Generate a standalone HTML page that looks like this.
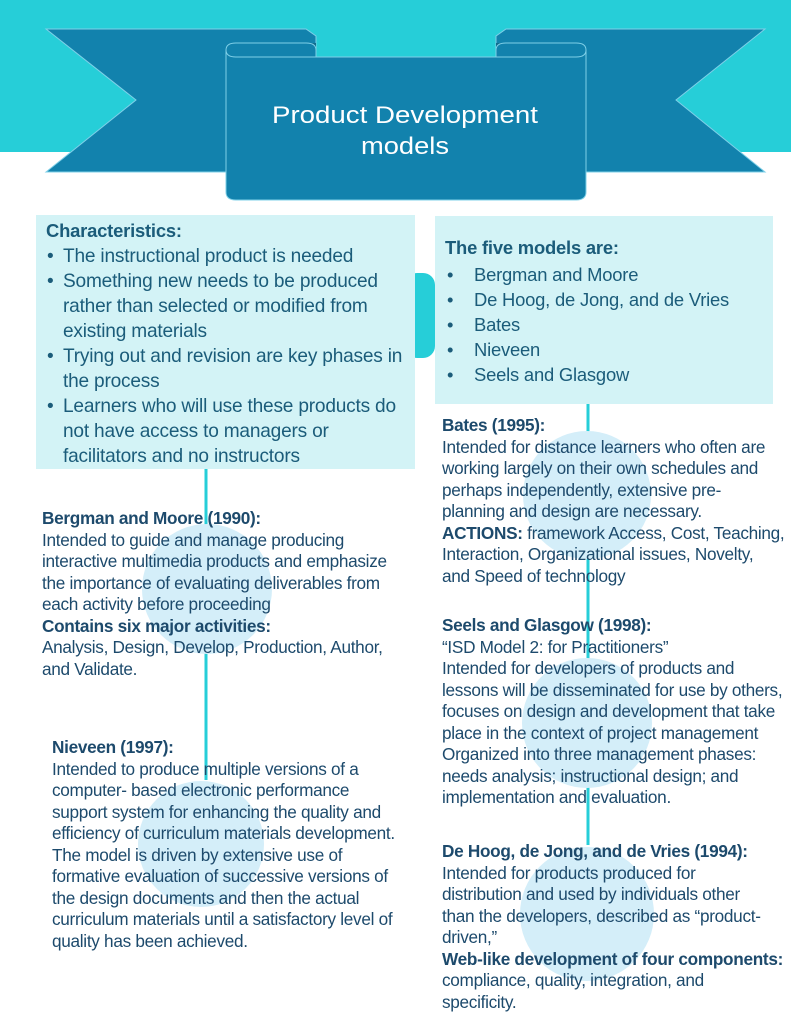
<!DOCTYPE html>
<html><head><meta charset="utf-8"><style>
body{margin:0;width:791px;height:1023px;position:relative;background:#fff;overflow:hidden;font-family:"Liberation Sans",sans-serif;}
.a{position:absolute;white-space:nowrap;color:#1d4a6c;}
.b{font-weight:bold;}
.bx{font-size:19.1px;color:#1b5c7a;letter-spacing:-0.2px;}
.bx2{font-size:18.4px;color:#1b5c7a;letter-spacing:-0.2px;}
.t{font-size:17.2px;letter-spacing:-0.3px;}
</style></head><body>
<div style="position:absolute;left:0;top:0;width:791px;height:152px;background:#26ced8"></div>
<svg style="position:absolute;left:0;top:0" width="791" height="220">
 <polygon points="46,29 306,29 316,36 316,172 46,172 136,100" fill="#1282ad" stroke="#7fd0e8" stroke-width="1"/>
 <polygon points="765,29 506,29 496,36 496,172 765,172 676,100" fill="#1282ad" stroke="#7fd0e8" stroke-width="1"/>
 <path d="M232,43 L316,43 L316,57 L232,57 Z" fill="#126a8c"/>
 <path d="M496,43 L580,43 L580,57 L496,57 Z" fill="#126a8c"/>
 <path d="M236,43 L306,43 Q316,43 316,50 L316,57 L496,57 L496,50 Q496,43 506,43 L576,43 Q586,43 586,50 L586,192 Q586,200 576,200 L236,200 Q226,200 226,192 L226,50 Q226,43 236,43 Z" fill="#1282ad" stroke="#7fd0e8" stroke-width="1"/>
 <path d="M226,50 Q226,57 236,57 L316,57" fill="none" stroke="#7fd0e8" stroke-width="1"/>
 <path d="M586,50 Q586,57 576,57 L496,57" fill="none" stroke="#7fd0e8" stroke-width="1"/>
 <text x="405" y="123" font-family="Liberation Sans,sans-serif" font-size="24" fill="#fff" text-anchor="middle" textLength="266" lengthAdjust="spacingAndGlyphs">Product Development</text>
 <text x="405" y="154" font-family="Liberation Sans,sans-serif" font-size="24" fill="#fff" text-anchor="middle" textLength="88" lengthAdjust="spacingAndGlyphs">models</text>
</svg>
<svg style="position:absolute;left:0;top:0" width="791" height="1023">
 <rect x="405" y="273" width="30" height="85" rx="12" fill="#26ced8"/>
 <line x1="206" y1="468" x2="206" y2="780" stroke="#26ced8" stroke-width="3"/>
 <line x1="588" y1="404" x2="588" y2="845" stroke="#26ced8" stroke-width="3"/>
 <circle cx="207" cy="589" r="65" fill="#d4eef9"/>
 <circle cx="201" cy="844" r="63" fill="#d4eef9"/>
 <circle cx="587" cy="495" r="64" fill="#d4eef9"/>
 <circle cx="587" cy="723" r="65" fill="#d4eef9"/>
 <circle cx="587" cy="914" r="67" fill="#d4eef9"/>
</svg>
<div style="position:absolute;left:36px;top:215px;width:379px;height:254px;background:#d3f3f6"></div>
<div style="position:absolute;left:435px;top:216px;width:338px;height:188px;background:#d3f3f6"></div>

<div class="a bx2 b" style="left:46px;top:220px">Characteristics:</div>
<div class="a bx" style="left:47px;top:244px;line-height:25px">•<br>•<br><br><br>•<br><br>•</div>
<div class="a bx" style="left:63px;top:244px;line-height:25px">The instructional product is needed<br>Something new needs to be produced<br>rather than selected or modified from<br>existing materials<br>Trying out and revision are key phases in<br>the process<br>Learners who will use these products do<br>not have access to managers or<br>facilitators and no instructors</div>

<div class="a bx2 b" style="left:445px;top:237px">The five models are:</div>
<div class="a bx2" style="left:447px;top:262px;line-height:25px">•<br>•<br>•<br>•<br>•</div>
<div class="a bx2" style="left:474px;top:262px;line-height:25px">Bergman and Moore<br>De Hoog, de Jong, and de Vries<br>Bates<br>Nieveen<br>Seels and Glasgow</div>

<div class="a t" style="left:42px;top:508px;line-height:21.5px"><b>Bergman and Moore (1990):</b><br>Intended to guide and manage producing<br>interactive multimedia products and emphasize<br>the importance of evaluating deliverables from<br>each activity before proceeding<br><b>Contains six major activities:</b><br>Analysis, Design, Develop, Production, Author,<br>and Validate.</div>

<div class="a t" style="left:52px;top:737px;line-height:21.5px"><b>Nieveen (1997):</b><br>Intended to produce multiple versions of a<br>computer- based electronic performance<br>support system for enhancing the quality and<br>efficiency of curriculum materials development.<br>The model is driven by extensive use of<br>formative evaluation of successive versions of<br>the design documents and then the actual<br>curriculum materials until a satisfactory level of<br>quality has been achieved.</div>

<div class="a t" style="left:442px;top:415px;line-height:21.5px"><b>Bates (1995):</b><br>Intended for distance learners who often are<br>working largely on their own schedules and<br>perhaps independently, extensive pre-<br>planning and design are necessary.<br><b>ACTIONS:</b> framework Access, Cost, Teaching,<br>Interaction, Organizational issues, Novelty,<br>and Speed of technology</div>

<div class="a t" style="left:442px;top:615px;line-height:21.5px"><b>Seels and Glasgow (1998):</b><br>“ISD Model 2: for Practitioners”<br>Intended for developers of products and<br>lessons will be disseminated for use by others,<br>focuses on design and development that take<br>place in the context of project management<br>Organized into three management phases:<br>needs analysis; instructional design; and<br>implementation and evaluation.</div>

<div class="a t" style="left:442px;top:841px;line-height:21.5px"><b>De Hoog, de Jong, and de Vries (1994):</b><br>Intended for products produced for<br>distribution and used by individuals other<br>than the developers, described as “product-<br>driven,”<br><b>Web-like development of four components:</b><br>compliance, quality, integration, and<br>specificity.</div>
</body></html>
